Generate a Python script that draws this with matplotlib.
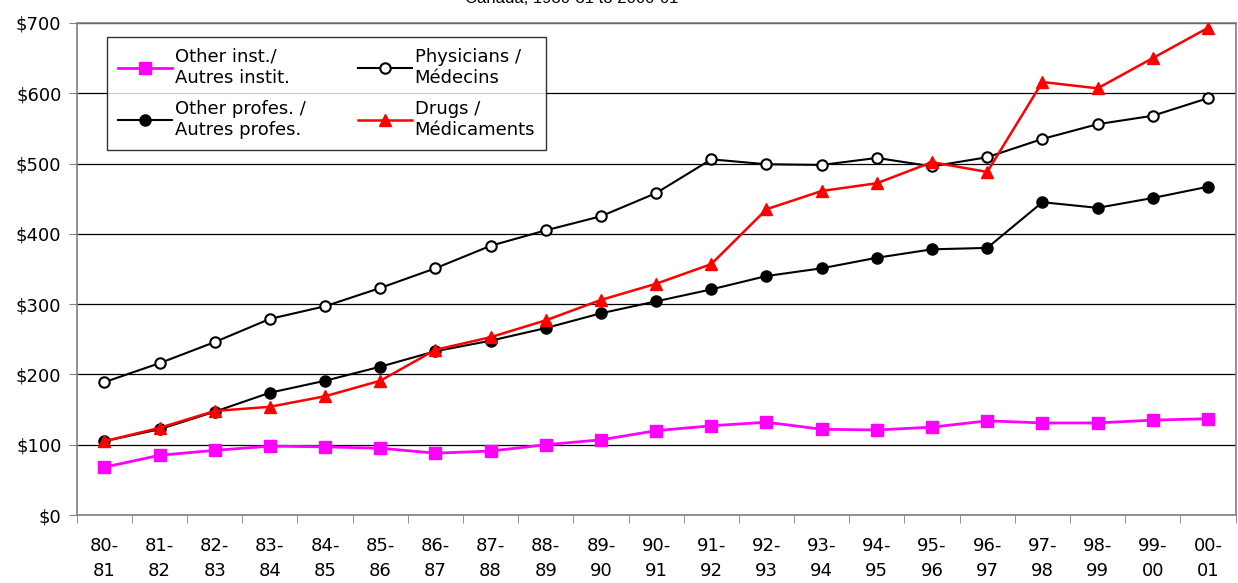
import matplotlib

matplotlib.use("Agg")
import matplotlib.pyplot as plt
import numpy as np

plt.rcParams["font.family"] = ["DejaVu Sans"]

years = ["80-\n81", "81-\n82", "82-\n83", "83-\n84", "84-\n85", "85-\n86", "86-\n87",
         "87-\n88", "88-\n89", "89-\n90", "90-\n91", "91-\n92", "92-\n93", "93-\n94",
         "94-\n95", "95-\n96", "96-\n97", "97-\n98", "98-\n99", "99-\n00", "00-\n01"]

other_inst = [68, 85, 92, 98, 97, 95, 88, 91, 100, 107, 120, 127, 132, 122, 121,
              125, 134, 131, 131, 135, 137]
physicians = [189, 216, 246, 279, 297, 323, 351, 383, 405, 425, 458, 506, 499, 498,
              508, 496, 509, 535, 556, 568, 593]
other_profes = [105, 122, 147, 174, 191, 211, 233, 248, 266, 287, 304, 321, 340, 351,
                366, 378, 380, 445, 437, 451, 467]
drugs = [105, 124, 148, 154, 169, 191, 235, 253, 277, 306, 329, 357, 435, 461, 472,
         502, 488, 616, 607, 650, 693]

fig = plt.figure(figsize=(12.38, 5.83), dpi=100)
ax = fig.add_axes([0.062, 0.1166, 0.936, 0.844])

x = np.arange(len(years))
ax.plot(x, other_inst, color="#ff00ff", lw=2, marker="s", ms=8,
        label="Other inst./\nAutres instit.", zorder=3)
ax.plot(x, other_profes, color="black", lw=1.5, marker="o", ms=8,
        label="Other profes. /\nAutres profes.", zorder=3)
ax.plot(x, physicians, color="black", lw=1.5, marker="o", ms=7.5, mfc="white",
        mec="black", mew=1.5, label="Physicians /\nMédecins", zorder=4)
ax.plot(x, drugs, color="#ff0000", lw=1.8, marker="^", ms=9,
        label="Drugs /\nMédicaments", zorder=5)

ax.set_xlim(-0.5, len(years) - 0.5)
ax.set_ylim(0, 700)
ax.set_yticks(range(0, 701, 100))
ax.set_yticklabels([f"${v}" for v in range(0, 701, 100)], fontsize=13)
ax.yaxis.grid(True, color="black", lw=0.9)
ax.set_axisbelow(True)

ax.set_xticks(x)
ax.set_xticklabels(years, fontsize=13, linespacing=1.45)
ax.set_xticks(np.arange(-0.5, len(years), 1), minor=True)
ax.tick_params(axis="x", which="major", length=0, pad=16)
ax.tick_params(axis="x", which="minor", length=6, color="#808080")
ax.tick_params(axis="y", length=6, color="#808080", pad=5)

for side in ["left", "bottom", "right", "top"]:
    ax.spines[side].set_color("#808080")
    ax.spines[side].set_linewidth(1.2)

leg = ax.legend(loc="upper left", bbox_to_anchor=(0.026, 0.9715), borderaxespad=0,
                ncol=2, fontsize=13, frameon=True, fancybox=False, edgecolor="black",
                handlelength=3.0, columnspacing=2.9, labelspacing=0.75, borderpad=0.6,
                handletextpad=0.15)
leg.get_frame().set_linewidth(1.0)

fig.text(0.462, 1.003, "Canada, 1980-81 to 2000-01", ha="center", va="center",
         fontsize=12, family="Liberation Sans")

fig.savefig("out.png", dpi=100)
plt.close(fig)
